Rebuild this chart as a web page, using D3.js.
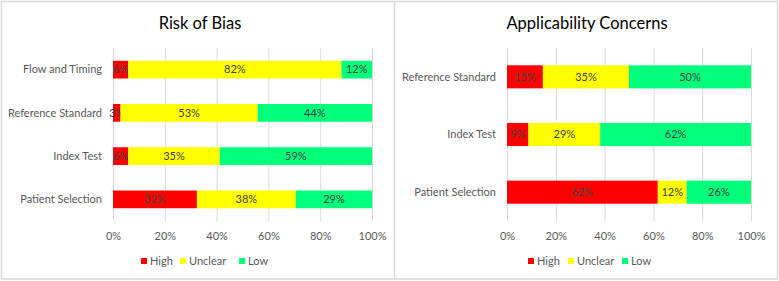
<!DOCTYPE html>
<html>
<head>
<meta charset="utf-8">
<script src="https://cdn.jsdelivr.net/npm/d3@7"></script>
<style>
  body { margin: 0; background: #fff; }
  text { font-family: Lato, "Open Sans", sans-serif; }
</style>
</head>
<body>
<div id="chart"></div>
<script>
// data, percentages
const seriesNames = ["High", "Unclear", "Low"];
const colors = ["#ff0000", "#ffff00", "#00ff7a"];
const tickValues = [0, 0.2, 0.4, 0.6, 0.8, 1];

const biasDomains = ["Flow and Timing", "Reference Standard", "Index Test", "Patient Selection"];
const biasHigh = [5.9, 2.9, 5.9, 32.4];
const biasUnclear = [82.4, 52.9, 35.3, 38.2];
const biasLow = [11.8, 44.1, 58.8, 29.4];

const applDomains = ["Reference Standard", "Index Test", "Patient Selection"];
const applHigh = [14.7, 8.8, 61.8];
const applUnclear = [35.3, 29.4, 11.8];
const applLow = [50.0, 61.8, 26.4];

const W = 779, H = 281;

const svg = d3.select("#chart")
  .append("svg")
  .attr("width", W)
  .attr("height", H);

// outer frame and divider
svg.append("rect")
  .attr("x", 1.5).attr("y", 1.5)
  .attr("width", 776).attr("height", 277.5)
  .attr("fill", "none")
  .attr("stroke", "#d9d9d9")
  .attr("stroke-width", 1.5);
svg.append("line")
  .attr("x1", 394.5).attr("x2", 394.5)
  .attr("y1", 1).attr("y2", 279)
  .attr("stroke", "#d9d9d9")
  .attr("stroke-width", 1.5);

function drawPanel(opts) {
  const rows = opts.domains.map((d, i) => ({
    domain: d,
    High: opts.high[i],
    Unclear: opts.unclear[i],
    Low: opts.low[i]
  }));

  const stacked = d3.stack()
    .keys(seriesNames)
    .offset(d3.stackOffsetExpand)(rows);

  const x = d3.scaleLinear()
    .domain([0, 1])
    .range([opts.left, opts.right]);

  const y = d3.scaleBand()
    .domain(opts.domains)
    .range([opts.top, opts.bottom])
    .paddingInner(opts.pad)
    .paddingOuter(opts.pad / 2);

  const g = svg.append("g");

  // title
  g.append("text")
    .attr("x", opts.titleX)
    .attr("y", 29)
    .attr("text-anchor", "middle")
    .attr("font-size", "16.5px")
    .attr("fill", "#000")
    .text(opts.title);

  // gridlines + tick labels
  const axis = g.append("g")
    .attr("transform", `translate(0,${opts.bottom})`)
    .call(d3.axisBottom(x)
      .tickValues(tickValues)
      .tickFormat(d3.format(".0%"))
      .tickSize(-(opts.bottom - opts.top))
      .tickPadding(11));
  axis.select(".domain").remove();
  axis.selectAll(".tick line")
    .attr("stroke", "#d9d9d9");
  axis.selectAll(".tick text")
    .attr("fill", "#595959")
    .attr("font-size", "11px")
    .attr("font-family", "Lato, sans-serif");

  // bars
  const layer = g.selectAll(".layer")
    .data(stacked)
    .enter()
    .append("g")
    .attr("fill", (d, i) => colors[i]);

  layer.selectAll("rect")
    .data(d => d)
    .enter()
    .append("rect")
    .attr("x", d => x(d[0]))
    .attr("width", d => x(d[1]) - x(d[0]))
    .attr("y", d => y(d.data.domain))
    .attr("height", y.bandwidth());

  // value labels
  layer.selectAll("text")
    .data((d, i) => d.map(v => ({v: v, key: seriesNames[i]})))
    .enter()
    .append("text")
    .attr("x", d => (x(d.v[0]) + x(d.v[1])) / 2)
    .attr("y", d => y(d.v.data.domain) + y.bandwidth() / 2)
    .attr("dy", "0.35em")
    .attr("text-anchor", "middle")
    .attr("font-size", "11px")
    .attr("fill", "#404040")
    .text(d => Math.round(d.v.data[d.key]) + "%");

  // category labels
  g.selectAll(".cat")
    .data(opts.domains)
    .enter()
    .append("text")
    .attr("x", opts.left - 11)
    .attr("y", d => y(d) + y.bandwidth() / 2)
    .attr("dy", "0.35em")
    .attr("text-anchor", "end")
    .attr("font-size", "11px")
    .attr("fill", "#595959")
    .text(d => d);

  // legend
  const leg = g.selectAll(".leg")
    .data(seriesNames)
    .enter()
    .append("g")
    .attr("transform", (d, i) => `translate(${opts.legendX[i]},261)`);
  leg.append("rect")
    .attr("x", 0).attr("y", -3)
    .attr("width", 6).attr("height", 6)
    .attr("fill", (d, i) => colors[i]);
  leg.append("text")
    .attr("x", 9)
    .attr("dy", "0.35em")
    .attr("font-size", "11px")
    .attr("fill", "#595959")
    .text(d => d);
}

drawPanel({
  title: "Risk of Bias",
  titleX: 200,
  domains: biasDomains,
  high: biasHigh, unclear: biasUnclear, low: biasLow,
  left: 113, right: 372, top: 48, bottom: 221,
  pad: 0.59,
  legendX: [141, 180, 239]
});

drawPanel({
  title: "Applicability Concerns",
  titleX: 587,
  domains: applDomains,
  high: applHigh, unclear: applUnclear, low: applLow,
  left: 507, right: 751, top: 48, bottom: 221,
  pad: 0.6,
  legendX: [528, 568, 622]
});
</script>
</body>
</html>
